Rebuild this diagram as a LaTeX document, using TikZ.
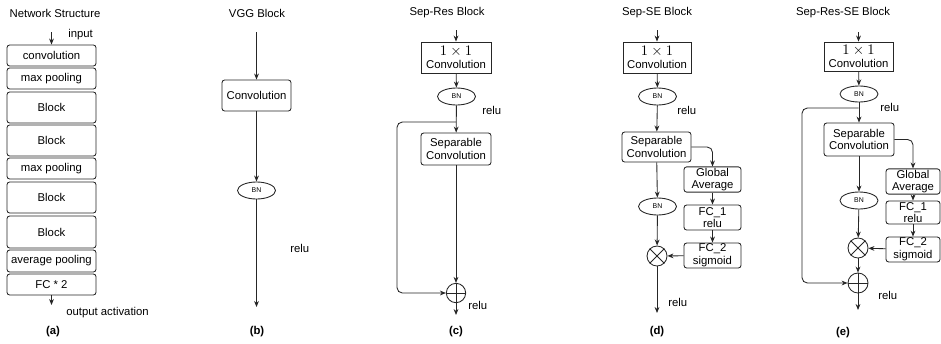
\documentclass[tikz,border=0pt]{standalone}
\usepackage{fontspec}
\setmainfont{Liberation Sans}
\usepackage{amsmath}
\usetikzlibrary{arrows.meta,shapes.geometric}

\newcommand{\onebyone}{{\fontsize{10.5}{10}\selectfont$1\times 1$}}

\tikzset{
  blk/.style={draw=black!85, line width=0.65pt, rounded corners=2pt, align=center, inner sep=0.75pt, font=\fontsize{8.5}{9.5}\selectfont},
  sqblk/.style={blk, sharp corners},
  stackbox/.style={blk, minimum width=66.75pt, minimum height=#1},
  stackbox/.default=15.75pt,
  bn/.style={draw=black!85, line width=0.65pt, ellipse, minimum width=28.5pt, minimum height=12.75pt, inner sep=0pt, font=\fontsize{5.2}{6}\selectfont},
  opnode/.style={draw=black!85, line width=0.65pt, circle, minimum size=14.5pt, inner sep=0pt},
  flow/.style={draw=black!85, line width=0.65pt, -{Stealth[length=4.5pt,width=3.6pt]}},
  lbl/.style={inner sep=0.75pt, font=\fontsize{8.5}{10}\selectfont},
  tag/.style={lbl, font=\fontsize{8.5}{10}\selectfont\bfseries},
}

\begin{document}
\begin{tikzpicture}[x=0.75pt,y=0.75pt,yscale=-1,xscale=1]
        \useasboundingbox (0,0) rectangle (941,343);

        %%% (a) network structure
        % Text Node
        \node[lbl] (aTitle) at (55,13) {Network Structure};
        \node[lbl, anchor=west] (aIn) at (67,35) {input};
        \node[lbl, anchor=west] (aOut) at (65,313) {output activation};
        \node[tag] (aTag) at (53,332) {(a)};
        %Shape: stacked layers
        \node[stackbox] (aConv) at (51.5,55.5) {convolution};
        \node[stackbox] (aPool) at (51.5,78.5) {max pooling};
        \node[stackbox=23.25pt] (aBlk1) at (51.5,107.5) {Block};
        \node[stackbox=23.25pt] (aBlk2) at (51.5,140.5) {Block};
        \node[stackbox] (aPool2) at (51.5,168.5) {max pooling};
        \node[stackbox=23.25pt] (aBlk3) at (51.5,197.5) {Block};
        \node[stackbox=24pt] (aBlk4) at (51.5,232) {Block};
        \node[stackbox=16.5pt] (aAvg) at (51.5,261) {average pooling};
        \node[stackbox] (aFc) at (51.5,284.5) {FC * 2};
        %Straight Lines
        \coordinate (aTop) at (51.5,32);
        \coordinate (aEnd) at (51.5,305);
        \draw[flow] (aTop) -- (aConv);
        \draw[flow] (aFc) -- (aEnd);

        %%% (b) VGG block
        % Text Node
        \node[lbl] (bTitle) at (257,13) {VGG Block};
        \node[lbl, anchor=west] (bRelu) at (289,248) {relu};
        \node[tag] (bTag) at (257,332) {(b)};
        %Shape: layers
        \node[blk, minimum width=51.75pt, minimum height=23.25pt] (bConv) at (256.5,95.5) {Convolution};
        \node[bn] (bBn) at (256.5,190.5) {BN};
        %Straight Lines
        \coordinate (bTop) at (256.5,32);
        \coordinate (bEnd) at (256.5,307);
        \draw[flow] (bTop) -- (bConv);
        \draw[flow] (bConv) -- (bBn);
        \draw[flow] (bBn) -- (bEnd);

        %%% (c) Sep-Res block
        % Text Node
        \node[lbl] (cTitle) at (447,13) {Sep-Res Block};
        \node[lbl, anchor=west] (cRelu) at (481,110) {relu};
        \node[lbl, anchor=west] (cRelu2) at (467,305) {relu};
        \node[tag] (cTag) at (456,332) {(c)};
        %Shape: layers
        \node[sqblk, minimum width=52.5pt, minimum height=23.25pt] (cPw) at (456,57.5) {\onebyone\\Convolution};
        \node[bn] (cBn) at (456.5,96.5) {BN};
        \node[blk, minimum width=52.5pt, minimum height=24pt] (cSep) at (456,149) {Separable\\Convolution};
        \node[opnode] (cAdd) at (456,293) {};
        \draw[draw=black!85, line width=0.65pt] (cAdd.north) -- (cAdd.south) (cAdd.west) -- (cAdd.east);
        %Straight Lines
        \coordinate (cTop) at (456,30);
        \coordinate (cSplit) at (456,122);
        \coordinate (cEnd) at (456,315);
        \draw[flow] (cTop) -- (cPw);
        \draw[flow] (cPw) -- (cBn);
        \draw[flow] (cBn) -- (cSep);
        \draw[flow] (cSep) -- (cAdd);
        \draw[flow, rounded corners=4pt] (cSplit) -- (397,122) -- (397,293) -- (cAdd.west);
        \draw[flow] (cAdd) -- (cEnd);

        %%% (d) Sep-SE block
        % Text Node
        \node[lbl] (dTitle) at (657,13) {Sep-SE Block};
        \node[lbl, anchor=west] (dRelu) at (676,110) {relu};
        \node[lbl, anchor=west] (dRelu2) at (667,302) {relu};
        \node[tag] (dTag) at (657,332) {(d)};
        %Shape: layers
        \node[sqblk, minimum width=51pt, minimum height=23.25pt] (dPw) at (657,57.5) {\onebyone\\Convolution};
        \node[bn] (dBn) at (657.5,96.5) {BN};
        \node[blk, minimum width=51.75pt, minimum height=22.5pt] (dSep) at (656.5,147) {Separable\\Convolution};
        \node[bn] (dBn2) at (657.5,206.5) {BN};
        \node[opnode, minimum size=15pt] (dMul) at (657,256) {};
        \draw[draw=black!85, line width=0.65pt] (dMul.north west) -- (dMul.south east) (dMul.north east) -- (dMul.south west);
        %Shape: squeeze branch
        \node[blk, minimum width=42.75pt, minimum height=18.75pt] (dGap) at (712.5,179.5) {Global\\Average};
        \node[blk, minimum width=42.75pt, minimum height=18.75pt] (dFc1) at (712.5,217.5) {FC\_1\\relu};
        \node[blk, minimum width=42.75pt, minimum height=18.75pt] (dFc2) at (712.5,255.5) {FC\_2\\sigmoid};
        %Straight Lines
        \coordinate (dTop) at (657,30);
        \coordinate (dEnd) at (657,313);
        \draw[flow] (dTop) -- (dPw);
        \draw[flow] (dPw) -- (dBn);
        \draw[flow] (dBn) -- (dSep);
        \draw[flow] (dSep) -- (dBn2);
        \draw[flow] (dBn2) -- (dMul);
        \draw[flow, rounded corners=4pt] (dSep.east) -| (dGap.north);
        \draw[flow] (dGap) -- (dFc1);
        \draw[flow] (dFc1) -- (dFc2);
        \draw[flow] (dFc2) -- (dMul);
        \draw[flow] (dMul) -- (dEnd);

        %%% (e) Sep-Res-SE block
        % Text Node
        \node[lbl] (eTitle) at (843,13) {Sep-Res-SE Block};
        \node[lbl, anchor=west] (eRelu) at (879,107) {relu};
        \node[lbl, anchor=west] (eRelu2) at (877,295) {relu};
        \node[tag] (eTag) at (843,333) {(e)};
        %Shape: layers
        \node[sqblk, minimum width=51.75pt, minimum height=21.75pt] (ePw) at (858.5,56.5) {\onebyone\\Convolution};
        \node[bn, minimum height=12pt] (eBn) at (859,94) {BN};
        \node[blk, minimum width=52.5pt, minimum height=24.75pt] (eSep) at (859,139.5) {Separable\\Convolution};
        \node[bn] (eBn2) at (859,200.5) {BN};
        \node[opnode, minimum size=15pt] (eMul) at (858,248) {};
        \draw[draw=black!85, line width=0.65pt] (eMul.north west) -- (eMul.south east) (eMul.north east) -- (eMul.south west);
        \node[opnode, minimum size=15pt] (eAdd) at (858,283) {};
        \draw[draw=black!85, line width=0.65pt] (eAdd.north) -- (eAdd.south) (eAdd.west) -- (eAdd.east);
        %Shape: squeeze branch
        \node[blk, minimum width=40.5pt, minimum height=17.25pt] (eGap) at (913,181.5) {Global\\Average};
        \node[blk, minimum width=40.5pt, minimum height=17.25pt] (eFc1) at (913,212.5) {FC\_1\\relu};
        \node[blk, minimum width=40.5pt, minimum height=17.25pt] (eFc2) at (913,249.5) {FC\_2\\sigmoid};
        %Straight Lines
        \coordinate (eTop) at (858.5,32);
        \coordinate (eSplit) at (858.5,108);
        \coordinate (eEnd) at (858,310);
        \draw[flow] (eTop) -- (ePw);
        \draw[flow] (ePw) -- (eBn);
        \draw[flow] (eBn) -- (eSep);
        \draw[flow] (eSep) -- (eBn2);
        \draw[flow] (eBn2) -- (eMul);
        \draw[flow] (eMul) -- (eAdd);
        \draw[flow, rounded corners=4pt] (eSplit) -- (802,108) -- (802,283) -- (eAdd.west);
        \draw[flow, rounded corners=4pt] (eSep.east) -| (eGap.north);
        \draw[flow] (eGap) -- (eFc1);
        \draw[flow] (eFc1) -- (eFc2);
        \draw[flow] (eFc2) -- (eMul);
        \draw[flow] (eAdd) -- (eEnd);

\end{tikzpicture}
\end{document}
